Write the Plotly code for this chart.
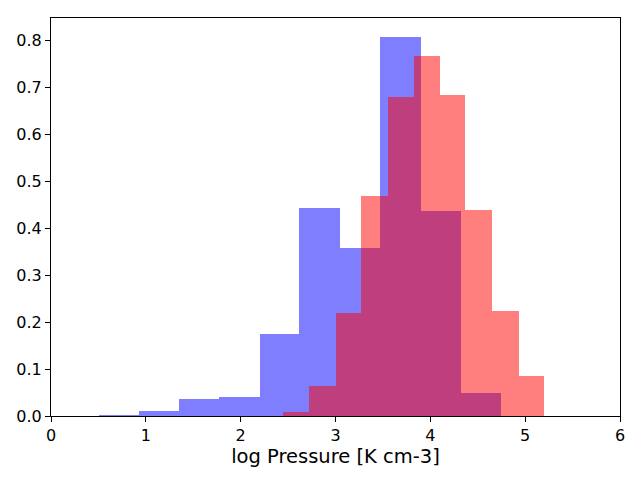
import plotly.graph_objects as go

# blue histogram: bin edges and normalised counts
blue_edges = [0.51, 0.93, 1.35, 1.77, 2.20, 2.62, 3.05, 3.47, 3.90, 4.32, 4.74]
blue_heights = [0.002, 0.011, 0.037, 0.041, 0.175, 0.443, 0.357, 0.807, 0.437, 0.050]

# red histogram
red_edges = [2.45, 2.72, 3.00, 3.27, 3.55, 3.83, 4.10, 4.37, 4.65, 4.93, 5.20]
red_heights = [0.009, 0.064, 0.220, 0.469, 0.679, 0.767, 0.683, 0.439, 0.224, 0.086]


def hist_trace(edges, heights, color):
    centers = [(edges[i] + edges[i + 1]) / 2 for i in range(len(heights))]
    widths = [edges[i + 1] - edges[i] for i in range(len(heights))]
    return go.Bar(x=centers, y=heights, width=widths,
                  marker=dict(color=color, line_width=0),
                  opacity=0.5, hoverinfo='x+y')


fig = go.Figure(data=[hist_trace(blue_edges, blue_heights, 'blue'),
                      hist_trace(red_edges, red_heights, 'red')])

axis_style = dict(showline=True, linecolor='black', linewidth=1, mirror=True,
                  ticks='outside', ticklen=5, tickcolor='black',
                  showgrid=False, zeroline=False, automargin=False,
                  tickfont=dict(size=16, color='black'))

# page body adds an 8px offset, so margins are shifted to compensate
fig.update_layout(
    barmode='overlay', bargap=0,
    showlegend=False,
    width=640, height=480,
    paper_bgcolor='white', plot_bgcolor='white',
    font=dict(family='DejaVu Sans', color='black'),
    margin=dict(l=43, r=28, t=10, b=72),
    xaxis=dict(range=[0, 6], dtick=1,
               title=dict(text='log Pressure [K cm-3]', font=dict(size=19.5), standoff=2),
               **axis_style),
    yaxis=dict(range=[0, 0.847], dtick=0.1, tickformat='.1f', **axis_style),
)

fig.write_html("out.html")
